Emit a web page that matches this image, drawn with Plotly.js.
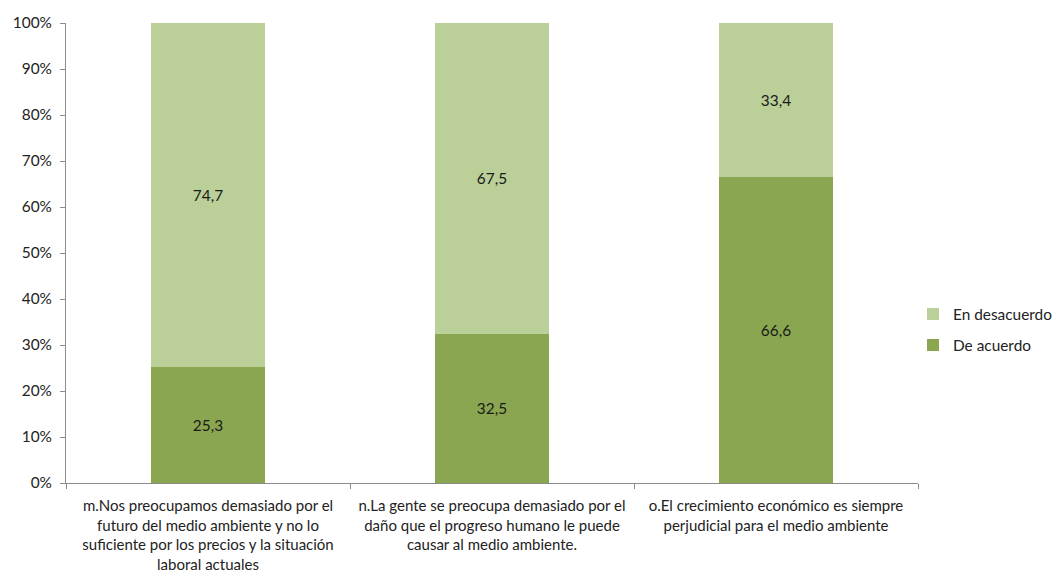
<!DOCTYPE html>
<html>
<head>
<meta charset="utf-8">
<script src="https://cdn.plot.ly/plotly-3.0.1.min.js"></script>
<style>html,body{margin:0;padding:0;background:#fff}#chart{width:1058px;height:577px}</style>
</head>
<body>
<div id="chart"></div>
<script>
const categories = [
  "m.Nos preocupamos demasiado por el<br>futuro del medio ambiente y no lo<br>suficiente por los precios y la situación<br>laboral actuales",
  "n.La gente se preocupa demasiado por el<br>daño que el progreso humano le puede<br>causar al medio ambiente.",
  "o.El crecimiento económico es siempre<br>perjudicial para el medio ambiente"
];
const deAcuerdo = [25.3, 32.5, 66.6];
const enDesacuerdo = [74.7, 67.5, 33.4];
const yTicks = [0, 10, 20, 30, 40, 50, 60, 70, 80, 90, 100];
const yTickText = yTicks.map(v => v + '%');

const FONT = "Lato, 'Open Sans', sans-serif";
const FS = 15.4;

const traces = [
  {
    type: 'bar', name: 'De acuerdo', x: categories, y: deAcuerdo,
    legendgroup: 'b', legendrank: 2,
    marker: {color: '#8BA650'},
    texttemplate: '%{y:.1f}', textposition: 'inside', insidetextanchor: 'middle',
    textfont: {color: '#1a1a1a', size: FS, family: FONT},
    hoverinfo: 'none'
  },
  {
    type: 'bar', name: 'En desacuerdo', x: categories, y: enDesacuerdo,
    legendgroup: 'a', legendrank: 1,
    marker: {color: '#BBCF98'},
    texttemplate: '%{y:.1f}', textposition: 'inside', insidetextanchor: 'middle',
    textfont: {color: '#1a1a1a', size: FS, family: FONT},
    hoverinfo: 'none'
  }
];

const W = 1058, ML = 66, MR = 0;
const plotW = W - ML - MR;
const xEnd = (918 - ML) / plotW;

const layout = {
  width: W, height: 577,
  margin: {l: ML, r: MR, t: 23, b: 94},
  barmode: 'stack', bargap: 0.6,
  separators: ',.',
  paper_bgcolor: '#fff', plot_bgcolor: '#fff',
  font: {family: FONT, size: FS, color: '#222'},
  showlegend: true,
  legend: {x: 1, y: (483 - 330) / 460, xanchor: 'right', yanchor: 'middle', traceorder: 'grouped',
           font: {size: FS, color: '#222'}, itemwidth: 30, tracegroupgap: 8, bgcolor: 'rgba(0,0,0,0)'},
  xaxis: {
    domain: [0, xEnd],
    type: 'category', showline: true, linecolor: '#8c8c8c', linewidth: 1,
    ticks: 'outside', tickson: 'boundaries', ticklen: 5, tickcolor: '#8c8c8c',
    ticklabelstandoff: 9, tickangle: 0,
    showgrid: false, zeroline: false, tickfont: {size: 15}
  },
  yaxis: {
    range: [0, 100], tickmode: 'array', tickvals: yTicks, ticktext: yTickText,
    showline: true, linecolor: '#8c8c8c', linewidth: 1,
    ticks: 'outside', ticklen: 5, tickcolor: '#8c8c8c',
    ticklabelstandoff: 5,
    showgrid: false, zeroline: false, tickfont: {size: FS}
  }
};

Plotly.newPlot('chart', traces, layout, {staticPlot: true, displayModeBar: false});
</script>
</body>
</html>
